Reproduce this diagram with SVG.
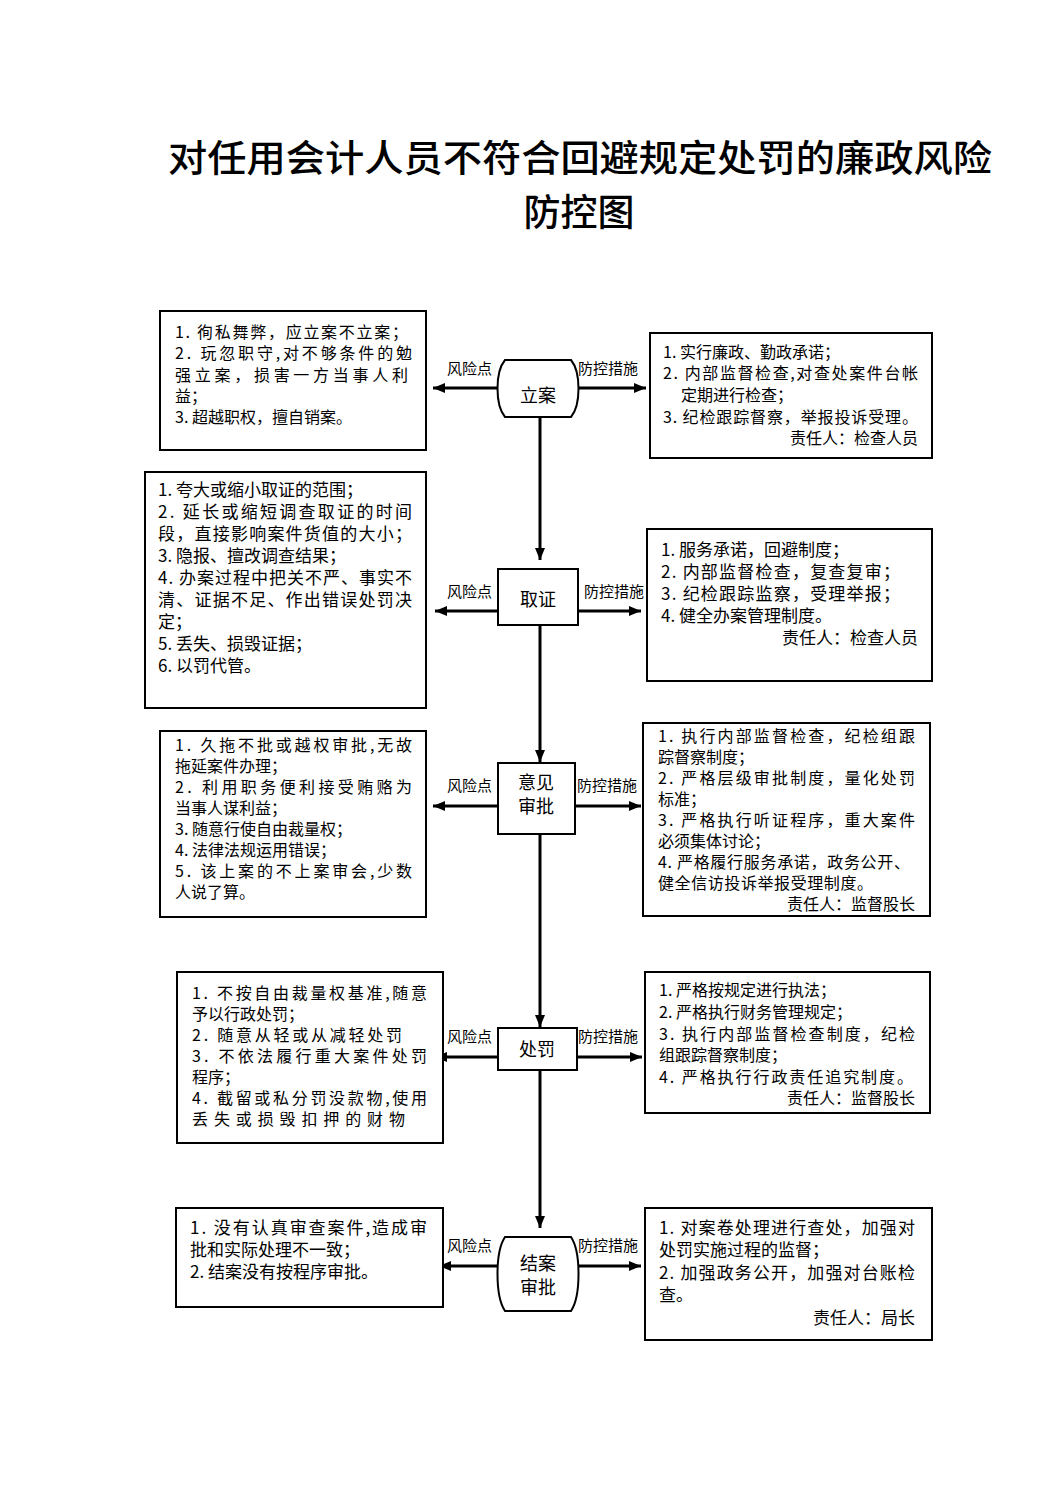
<svg xmlns="http://www.w3.org/2000/svg" width="1063" height="1502" viewBox="0 0 1063 1502">
<style>
  text { font-family: "Noto Sans CJK SC", "Noto Sans", sans-serif; fill: #000; }
  .title { font-size: 37px; font-weight: 500; }
  .t { font-size: 17px; }
  .s { font-size: 16px; }
  .r { text-anchor: end; }
  .lab { font-size: 15px; }
  .nt { font-size: 18px; text-anchor: middle; }
  .box { fill: #fff; stroke: #000; stroke-width: 2; }
  .node { fill: #fff; stroke: #000; stroke-width: 2; }
  .con { stroke: #000; stroke-width: 3; fill: none; marker-end: url(#ah); }
</style>
<defs>
  <marker id="ah" markerUnits="userSpaceOnUse" markerWidth="13" markerHeight="11" refX="12" refY="5" orient="auto">
    <path d="M0,0 L12,5 L0,10 Z" fill="#000"/>
  </marker>
</defs>
<rect width="1063" height="1502" fill="#fff"/>

<g id="title">
  <text class="title" x="580" y="172" text-anchor="middle" textLength="824" lengthAdjust="spacingAndGlyphs">对任用会计人员不符合回避规定处罚的廉政风险</text>
  <text class="title" x="579" y="226" text-anchor="middle">防控图</text>
</g>

<g id="connectors">
  <line class="con" x1="540" y1="417" x2="540" y2="560"/>
  <line class="con" x1="540" y1="625" x2="540" y2="762"/>
  <line class="con" x1="540" y1="834" x2="540" y2="1027"/>
  <line class="con" x1="540" y1="1070" x2="540" y2="1228"/>

  <line class="con" x1="499" y1="388" x2="433" y2="388"/>
  <line class="con" x1="577" y1="388" x2="646" y2="388"/>
  <line class="con" x1="498" y1="611" x2="435" y2="611"/>
  <line class="con" x1="578" y1="611" x2="641" y2="611"/>
  <line class="con" x1="498" y1="806" x2="433" y2="806"/>
  <line class="con" x1="575" y1="806" x2="641" y2="806"/>
  <line class="con" x1="498" y1="1057" x2="435" y2="1057"/>
  <line class="con" x1="577" y1="1057" x2="642" y2="1057"/>
  <line class="con" x1="499" y1="1266" x2="439" y2="1266"/>
  <line class="con" x1="577" y1="1266" x2="641" y2="1266"/>

  <text class="lab" x="447" y="374">风险点</text>
  <text class="lab" x="578" y="374">防控措施</text>
  <text class="lab" x="447" y="597">风险点</text>
  <text class="lab" x="584" y="597">防控措施</text>
  <text class="lab" x="447" y="791">风险点</text>
  <text class="lab" x="577" y="791">防控措施</text>
  <text class="lab" x="447" y="1042">风险点</text>
  <text class="lab" x="578" y="1042">防控措施</text>
  <text class="lab" x="447" y="1251">风险点</text>
  <text class="lab" x="578" y="1251">防控措施</text>
</g>

<!-- Row 1 -->
<g id="node-lian">
  <path class="node" d="M505,360 L571,360 C581,372 581,405 571,417 L505,417 C495,405 495,372 505,360 Z"/>
  <text class="nt" x="538" y="402">立案</text>
</g>
<g id="risk-lian">
  <rect class="box" x="160" y="311" width="266" height="139"/>
  <text class="s" x="175" y="338" textLength="233" lengthAdjust="spacing">1. 徇私舞弊，应立案不立案；</text>
  <text class="s" x="175" y="359" textLength="237" lengthAdjust="spacing">2. 玩忽职守,对不够条件的勉</text>
  <text class="s" x="175" y="381" textLength="233" lengthAdjust="spacing">强立案，损害一方当事人利</text>
  <text class="s" x="175" y="402">益；</text>
  <text class="s" x="175" y="423">3. 超越职权，擅自销案。</text>
</g>
<g id="ctrl-lian">
  <rect class="box" x="650" y="333" width="282" height="125"/>
  <text class="s" x="663" y="358">1. 实行廉政、勤政承诺；</text>
  <text class="s" x="663" y="379" textLength="255" lengthAdjust="spacing">2. 内部监督检查,对查处案件台帐</text>
  <text class="s" x="681" y="401">定期进行检查；</text>
  <text class="s" x="663" y="423" textLength="255" lengthAdjust="spacing">3. 纪检跟踪督察，举报投诉受理。</text>
  <text class="s r" x="918" y="444">责任人：检查人员</text>
</g>

<!-- Row 2 -->
<g id="node-quzheng">
  <rect class="node" x="498" y="569" width="80" height="56"/>
  <text class="nt" x="538" y="606">取证</text>
</g>
<g id="risk-quzheng">
  <rect class="box" x="145" y="472" width="281" height="236"/>
  <text class="t" x="158" y="496">1. 夸大或缩小取证的范围；</text>
  <text class="t" x="158" y="518" textLength="254" lengthAdjust="spacing">2. 延长或缩短调查取证的时间</text>
  <text class="t" x="158" y="540" textLength="254" lengthAdjust="spacing">段，直接影响案件货值的大小；</text>
  <text class="t" x="158" y="562">3. 隐报、擅改调查结果；</text>
  <text class="t" x="158" y="584" textLength="254" lengthAdjust="spacing">4. 办案过程中把关不严、事实不</text>
  <text class="t" x="158" y="606" textLength="254" lengthAdjust="spacing">清、证据不足、作出错误处罚决</text>
  <text class="t" x="158" y="628">定；</text>
  <text class="t" x="158" y="650">5. 丢失、损毁证据；</text>
  <text class="t" x="158" y="672">6. 以罚代管。</text>
</g>
<g id="ctrl-quzheng">
  <rect class="box" x="647" y="529" width="285" height="152"/>
  <text class="t" x="661" y="556">1. 服务承诺，回避制度；</text>
  <text class="t" x="661" y="578" textLength="239" lengthAdjust="spacing">2. 内部监督检查，复查复审；</text>
  <text class="t" x="661" y="600" textLength="239" lengthAdjust="spacing">3. 纪检跟踪监察，受理举报；</text>
  <text class="t" x="661" y="622">4. 健全办案管理制度。</text>
  <text class="t r" x="918" y="644">责任人：检查人员</text>
</g>

<!-- Row 3 -->
<g id="node-yijian">
  <rect class="node" x="498" y="763" width="77" height="71"/>
  <text class="nt" x="536" y="789">意见</text>
  <text class="nt" x="536" y="813">审批</text>
</g>
<g id="risk-yijian">
  <rect class="box" x="160" y="731" width="266" height="186"/>
  <text class="s" x="175" y="751" textLength="237" lengthAdjust="spacing">1. 久拖不批或越权审批,无故</text>
  <text class="s" x="175" y="772">拖延案件办理；</text>
  <text class="s" x="175" y="793" textLength="237" lengthAdjust="spacing">2. 利用职务便利接受贿赂为</text>
  <text class="s" x="175" y="814">当事人谋利益；</text>
  <text class="s" x="175" y="835">3. 随意行使自由裁量权；</text>
  <text class="s" x="175" y="856">4. 法律法规运用错误；</text>
  <text class="s" x="175" y="877" textLength="237" lengthAdjust="spacing">5. 该上案的不上案审会,少数</text>
  <text class="s" x="175" y="898">人说了算。</text>
</g>
<g id="ctrl-yijian">
  <rect class="box" x="643" y="723" width="287" height="193"/>
  <text class="s" x="658" y="742" textLength="257" lengthAdjust="spacing">1. 执行内部监督检查，纪检组跟</text>
  <text class="s" x="658" y="763">踪督察制度；</text>
  <text class="s" x="658" y="784" textLength="257" lengthAdjust="spacing">2. 严格层级审批制度，量化处罚</text>
  <text class="s" x="658" y="805">标准；</text>
  <text class="s" x="658" y="826" textLength="257" lengthAdjust="spacing">3. 严格执行听证程序，重大案件</text>
  <text class="s" x="658" y="847">必须集体讨论；</text>
  <text class="s" x="658" y="868" textLength="252" lengthAdjust="spacing">4. 严格履行服务承诺，政务公开、</text>
  <text class="s" x="658" y="889" textLength="215" lengthAdjust="spacing">健全信访投诉举报受理制度。</text>
  <text class="s r" x="915" y="910">责任人：监督股长</text>
</g>

<!-- Row 4 -->
<g id="node-chufa">
  <rect class="node" x="498" y="1028" width="79" height="42"/>
  <text class="nt" x="537" y="1056">处罚</text>
</g>
<g id="risk-chufa">
  <rect class="box" x="177" y="972" width="266" height="171"/>
  <text class="s" x="192" y="999" textLength="235" lengthAdjust="spacing">1. 不按自由裁量权基准,随意</text>
  <text class="s" x="192" y="1020">予以行政处罚；</text>
  <text class="s" x="192" y="1041" textLength="210" lengthAdjust="spacing">2. 随意从轻或从减轻处罚</text>
  <text class="s" x="192" y="1062" textLength="235" lengthAdjust="spacing">3. 不依法履行重大案件处罚</text>
  <text class="s" x="192" y="1083">程序；</text>
  <text class="s" x="192" y="1104" textLength="235" lengthAdjust="spacing">4. 截留或私分罚没款物,使用</text>
  <text class="s" x="192" y="1125" textLength="213" lengthAdjust="spacing">丢失或损毁扣押的财物</text>
</g>
<g id="ctrl-chufa">
  <rect class="box" x="645" y="972" width="285" height="141"/>
  <text class="s" x="659" y="996">1. 严格按规定进行执法；</text>
  <text class="s" x="659" y="1018">2. 严格执行财务管理规定；</text>
  <text class="s" x="659" y="1040" textLength="256" lengthAdjust="spacing">3. 执行内部监督检查制度，纪检</text>
  <text class="s" x="659" y="1061">组跟踪督察制度；</text>
  <text class="s" x="659" y="1083" textLength="254" lengthAdjust="spacing">4. 严格执行行政责任追究制度。</text>
  <text class="s r" x="915" y="1104">责任人：监督股长</text>
</g>

<!-- Row 5 -->
<g id="node-jiean">
  <path class="node" d="M505,1237 L571,1237 C581,1252 581,1296 571,1311 L505,1311 C495,1296 495,1252 505,1237 Z"/>
  <text class="nt" x="538" y="1270">结案</text>
  <text class="nt" x="538" y="1294">审批</text>
</g>
<g id="risk-jiean">
  <rect class="box" x="176" y="1208" width="267" height="99"/>
  <text class="t" x="190" y="1234" textLength="237" lengthAdjust="spacing">1. 没有认真审查案件,造成审</text>
  <text class="t" x="190" y="1256">批和实际处理不一致；</text>
  <text class="t" x="190" y="1278">2. 结案没有按程序审批。</text>
</g>
<g id="ctrl-jiean">
  <rect class="box" x="645" y="1208" width="287" height="132"/>
  <text class="t" x="659" y="1234" textLength="256" lengthAdjust="spacing">1. 对案卷处理进行查处，加强对</text>
  <text class="t" x="659" y="1256">处罚实施过程的监督；</text>
  <text class="t" x="659" y="1279" textLength="256" lengthAdjust="spacing">2. 加强政务公开，加强对台账检</text>
  <text class="t" x="659" y="1301">查。</text>
  <text class="t r" x="915" y="1324">责任人：局长</text>
</g>
</svg>
